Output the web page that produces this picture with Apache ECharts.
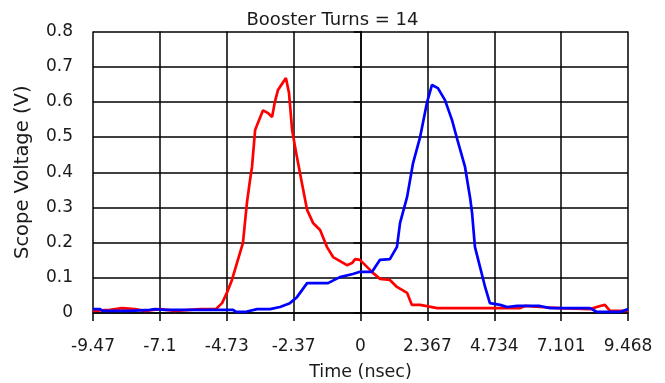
<!DOCTYPE html>
<html>
<head>
<meta charset="utf-8">
<style>
  html, body { margin: 0; padding: 0; background: #fff; }
  #chart { width: 665px; height: 383px; }
</style>
<script src="https://cdn.jsdelivr.net/npm/echarts@6/dist/echarts.min.js"></script>
</head>
<body>
<div id="chart"></div>
<script>
// Tick labels along the time axis (one per 2.367 ns step)
var timeTickLabels = ['-9.47', '-7.1', '-4.73', '-2.37', '0', '2.367', '4.734', '7.101', '9.468'];
var timeStep = 2.367;

// Channel 1 (red) trace: time in ns, voltage in V
var ch1Time = [-9.47, -8.87, -8.44, -7.98, -7.63, -7.10, -6.56, -6.04, -5.68, -5.12, -4.90, -4.73, -4.55, -4.34, -4.16,
  -4.02, -3.91, -3.84, -3.73, -3.66, -3.45, -3.27, -3.13, -3.03, -2.92, -2.64, -2.53, -2.42, -2.25, -2.04,
  -1.89, -1.68, -1.43, -1.19, -0.97, -0.48, -0.30, -0.19, -0.02, 0.23, 0.44, 0.69, 1.04, 1.29, 1.65,
  1.82, 2.11, 2.71, 4.23, 5.65, 5.82, 6.35, 7.06, 8.12, 8.48, 8.65, 8.83, 9.47];
var ch1Volt = [0.006, 0.009, 0.014, 0.011, 0.006, 0.011, 0.006, 0.009, 0.011, 0.011, 0.028, 0.057, 0.094, 0.151, 0.199,
  0.313, 0.378, 0.415, 0.520, 0.534, 0.576, 0.568, 0.557, 0.600, 0.634, 0.668, 0.625, 0.520, 0.443, 0.355,
  0.293, 0.256, 0.236, 0.188, 0.159, 0.136, 0.142, 0.153, 0.151, 0.131, 0.114, 0.097, 0.094, 0.074, 0.057,
  0.023, 0.023, 0.014, 0.014, 0.014, 0.020, 0.017, 0.014, 0.011, 0.020, 0.023, 0.006, 0.006];

// Channel 2 (blue) trace: time in ns, voltage in V
var ch2Time = [-9.47, -9.22, -9.12, -8.16, -7.45, -7.27, -6.92, -5.68, -4.51, -4.41, -4.09, -3.66, -3.20, -2.85, -2.50,
  -2.25, -1.89, -1.15, -0.73, -0.27, -0.02, 0.41, 0.69, 1.04, 1.29, 1.40, 1.65, 1.86, 2.11, 2.35,
  2.53, 2.74, 2.99, 3.24, 3.45, 3.70, 3.88, 3.95, 4.05, 4.23, 4.41, 4.58, 4.94, 5.19, 5.54,
  6.35, 6.71, 8.12, 8.37, 9.19, 9.47];
var ch2Volt = [0.011, 0.011, 0.006, 0.006, 0.009, 0.011, 0.009, 0.009, 0.009, 0.003, 0.003, 0.011, 0.011, 0.017, 0.028,
  0.045, 0.085, 0.085, 0.102, 0.111, 0.117, 0.117, 0.151, 0.153, 0.188, 0.256, 0.330, 0.426, 0.500, 0.597,
  0.648, 0.639, 0.605, 0.548, 0.486, 0.415, 0.327, 0.284, 0.188, 0.131, 0.074, 0.028, 0.023, 0.017, 0.020,
  0.020, 0.014, 0.014, 0.003, 0.003, 0.011];

function pairs(xs, ys) {
  return xs.map(function (x, i) { return [x, ys[i]]; });
}

var chart = echarts.init(document.getElementById('chart'), null, { renderer: 'canvas' });
var fontFamily = '"DejaVu Sans", sans-serif';
var textColor = '#1a1a1a';

chart.setOption({
  animation: false,
  backgroundColor: '#fff',
  title: {
    text: 'Booster Turns = 14',
    left: 'center',
    top: 6,
    textStyle: { fontFamily: fontFamily, fontSize: 18, fontWeight: 'normal', color: textColor }
  },
  grid: { left: 93, right: 37, top: 31.5, bottom: 70, containLabel: false, outerBoundsMode: 'none' },
  xAxis: {
    type: 'value',
    min: -4 * timeStep,
    max: 4 * timeStep,
    interval: timeStep,
    name: 'Time (nsec)',
    nameLocation: 'middle',
    nameGap: 50,
    nameTextStyle: { fontFamily: fontFamily, fontSize: 17.5, color: textColor },
    axisLine: { lineStyle: { color: '#000', width: 1.5 } },
    axisTick: { show: true, length: 8, lineStyle: { color: '#000', width: 1.5 } },
    axisLabel: {
      margin: 25,
      fontFamily: fontFamily,
      fontSize: 17,
      color: textColor,
      showMinLabel: true,
      showMaxLabel: true,
      formatter: function (v) {
        var idx = Math.round(v / timeStep) + 4;
        return timeTickLabels[idx] !== undefined ? timeTickLabels[idx] : '';
      }
    },
    splitLine: { show: true, lineStyle: { color: '#000', width: 1.5 } }
  },
  yAxis: {
    type: 'value',
    min: 0,
    max: 0.8,
    interval: 0.1,
    name: 'Scope Voltage (V)',
    nameLocation: 'middle',
    nameGap: 60,
    nameRotate: 90,
    nameTextStyle: { fontFamily: fontFamily, fontSize: 19.5, color: textColor },
    axisLine: { show: true, lineStyle: { color: '#000', width: 1.5 } },
    axisTick: { show: true, length: 7, lineStyle: { color: '#000', width: 1.5 } },
    axisLabel: {
      margin: 20,
      fontFamily: fontFamily,
      fontSize: 17,
      color: textColor,
      formatter: function (v) { return String(Math.round(v * 10) / 10); }
    },
    splitLine: { show: true, lineStyle: { color: '#000', width: 1.5 } }
  },
  series: [
    {
      name: 'Channel 1',
      type: 'line',
      data: pairs(ch1Time, ch1Volt),
      showSymbol: false,
      lineStyle: { color: '#ff0000', width: 2.7 },
      itemStyle: { color: '#ff0000' },
      z: 3
    },
    {
      name: 'Channel 2',
      type: 'line',
      data: pairs(ch2Time, ch2Volt),
      showSymbol: false,
      lineStyle: { color: '#0000ff', width: 2.7 },
      itemStyle: { color: '#0000ff' },
      z: 4
    }
  ]
});
</script>
</body>
</html>
